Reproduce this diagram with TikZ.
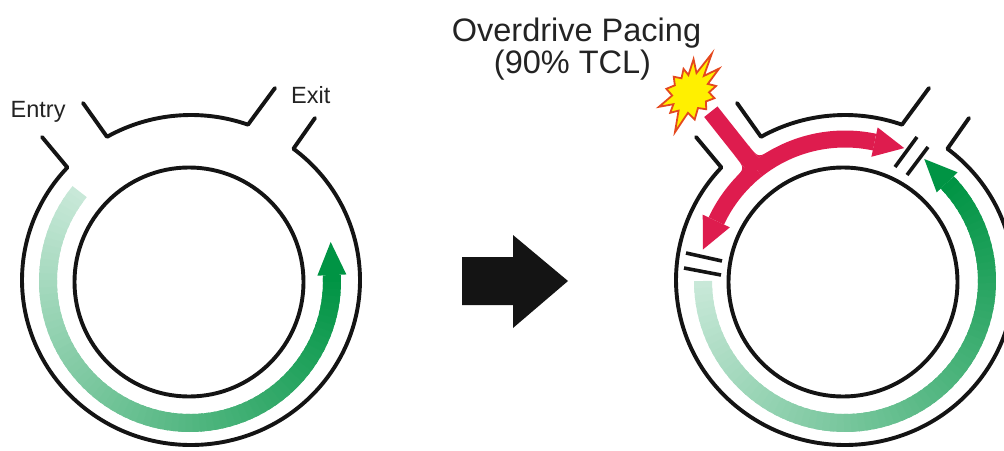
\documentclass[tikz,border=0pt]{standalone}
\usepackage{fontspec}
\setmainfont{Liberation Sans}
\usetikzlibrary{calc}

\definecolor{ink}{RGB}{20,20,20}
\definecolor{txt}{RGB}{35,35,35}
\definecolor{glight}{RGB}{200,232,216}
\definecolor{gdark}{RGB}{0,148,68}
\definecolor{pace}{RGB}{222,28,78}
\definecolor{burst}{RGB}{255,240,0}
\definecolor{burstedge}{RGB}{228,72,30}

\tikzset{
  wall/.style={draw=ink, line width=3.9pt, line cap=round, line join=round},
  blockline/.style={draw=ink, line width=3.6pt, line cap=butt},
  band/.style={line width=18pt, line cap=butt},
  redband/.style={draw=pace, line width=17pt, line cap=butt},
  lbl/.style={text=txt, font=\fontsize{23.5}{27}\selectfont, inner sep=0pt},
  title/.style={text=txt, font=\fontsize{32.5}{35}\selectfont, inner sep=0pt},
}

% one ring with its entry and exit tubes; #1 = name prefix
\newcommand\heartring[1]{%
  \coordinate (#1o) at (191,280);
  \coordinate (#1i) at (189,282);
  % outer wall, from the exit tube round the bottom to the entry tube
  \draw[wall] (315,118) -- ($(#1o)+(-52.7:169 and 165)$)
    arc[start angle=-52.7, end angle=223, x radius=169, y radius=165] -- (42,137);
  % wall piece between the two tubes
  \draw[wall] (83,103) -- ($(#1o)+(-119.8:169 and 165)$)
    arc[start angle=-119.8, end angle=-70.3, x radius=169, y radius=165] -- (275,88);
  % inner wall
  \draw[wall] (#1i) circle[radius=114.5];
}

% band along a circle of radius 142 whose colour runs from glight to gdark
% #1 centre, #2 start angle, #3 end angle, #4 number of pieces
\newcommand\gradband[4]{%
  \pgfmathsetmacro\gbD{(#3-#2)/#4}%
  \foreach \k in {1,...,#4}{%
    \pgfmathsetmacro\gbS{#2+\gbD*(\k-1)}%
    \pgfmathsetmacro\gbE{#2+\gbD*min(\k+0.6,#4)}%
    \pgfmathsetmacro\gbP{100*(\k-1)/(#4-1)}%
    \draw[band, draw=gdark!\gbP!glight] ($(#1)+(\gbS:142)$)
      arc[start angle=\gbS, end angle=\gbE, radius=142];
  }}

\begin{document}
\begin{tikzpicture}[x=1pt, y=-1pt]
\useasboundingbox (0,0) rectangle (1004,450);
\clip (0,0) rectangle (1004,450);

% ---------- left: normal circuit ----------
\coordinate (gl) at (190,281);
\gradband{gl}{219}{-2.4}{80}
\fill[gdark] ($(gl)+(-2.4:127.5)$) -- ($(gl)+(-15.5:146)$) -- ($(gl)+(-2.4:156.5)$) -- cycle;
\heartring{L}

\node[lbl, anchor=base west] (entry) at (10.5,117.3) {Entry};
\node[lbl, anchor=base west] (exit) at (291,103.3) {Exit};

% ---------- middle arrow ----------
\fill[ink] (462,257) -- (513,257) -- (513,235) -- (568,281) -- (513,328)
  -- (513,305) -- (462,305) -- cycle;

% ---------- right: overdrive pacing ----------
\coordinate (gr) at (845,281);
\gradband{gr}{180}{-44}{80}
\fill[gdark] ($(gr)+(-44:127.5)$) -- ($(gr)+(-57:145.5)$) -- ($(gr)+(-44:156.5)$) -- cycle;

% paced wavefront: stem entering and two branches
\draw[redband] ($(gr)+(-128.4:142)$) arc[start angle=-128.4, end angle=-78, radius=142];
\draw[redband] ($(gr)+(-128.4:142)$) arc[start angle=-128.4, end angle=-155, radius=142];
\draw[redband] ($(gr)+(-128.4:142)$) -- ($(gr)+(-128.4:216)$);
\fill[pace] ($(gr)+(-138.4:150.5)$) .. controls ($(gr)+(-131.64:150.5)$) ..
  ($(gr)+(-131.35:166)$) -- ($(gr)+(-131.64:150.5)$) -- cycle;
\fill[pace] ($(gr)+(-118.4:150.5)$) .. controls ($(gr)+(-125.16:150.5)$) ..
  ($(gr)+(-125.45:166)$) -- ($(gr)+(-125.16:150.5)$) -- cycle;
\fill[pace] ($(gr)+(-78:127)$) -- ($(gr)+(-66:145.5)$) -- ($(gr)+(-78:157)$) -- cycle;
\fill[pace] ($(gr)+(-155:127)$) -- ($(gr)+(-167.5:145.5)$) -- ($(gr)+(-155:157)$) -- cycle;

\begin{scope}[shift={(654,0)}]
  \heartring{R}
\end{scope}

% conduction block marks
\coordinate (b1a) at (686,253); \coordinate (b1b) at (722,261);
\coordinate (b2a) at (684,268); \coordinate (b2b) at (721,275);
\draw[blockline] (b1a) -- (b1b);
\draw[blockline] (b2a) -- (b2b);
\coordinate (b3a) at (895,167); \coordinate (b3b) at (917,137);
\coordinate (b4a) at (907,175); \coordinate (b4b) at (928,147);
\draw[blockline] (b3a) -- (b3b);
\draw[blockline] (b4a) -- (b4b);

% pacing stimulus
\coordinate (s) at (690,93);
\filldraw[fill=burst, draw=burstedge, line width=1.8pt, line join=miter]
  ($(s)+(-84:34)$) -- ($(s)+(-72:21)$) -- ($(s)+(-61:45)$) -- ($(s)+(-51:22)$)
  -- ($(s)+(-40:38)$) -- ($(s)+(-27:20)$) -- ($(s)+(-15:27)$) -- ($(s)+(-2:19)$)
  -- ($(s)+(12:25)$) -- ($(s)+(28:18)$) -- ($(s)+(45:23)$) -- ($(s)+(62:17)$)
  -- ($(s)+(80:27)$) -- ($(s)+(96:20)$) -- ($(s)+(111:42)$) -- ($(s)+(123:21)$)
  -- ($(s)+(135:28)$) -- ($(s)+(146:20)$) -- ($(s)+(156:34)$) -- ($(s)+(172:18)$)
  -- ($(s)+(190:24)$) -- ($(s)+(207:17)$) -- ($(s)+(225:23)$) -- ($(s)+(240:17)$)
  -- ($(s)+(255:25)$) -- ($(s)+(265:18)$) -- cycle;

\node[title, anchor=base] (pace1) at (576.5,41.7) {Overdrive Pacing};
\node[title, anchor=base] (pace2) at (572.5,73.3) {(90\% TCL)};
\end{tikzpicture}
\end{document}
